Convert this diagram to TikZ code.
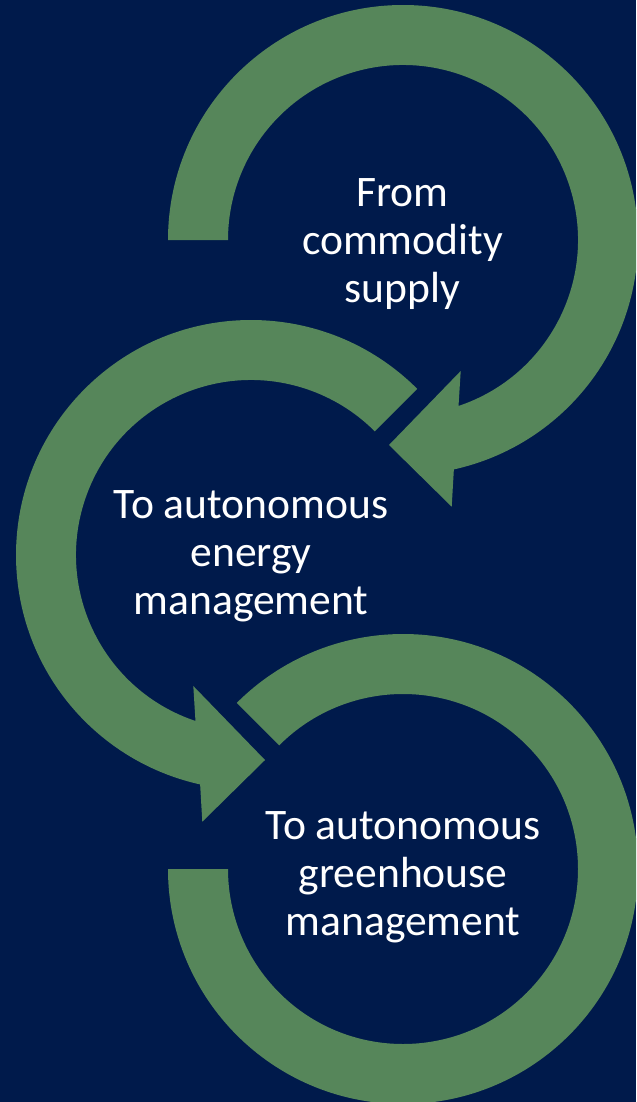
\documentclass[tikz,border=0pt]{standalone}
\usepackage{xcolor}
\usepackage{tikz}
\usepackage{fontspec}
\setmainfont{Carlito}
\definecolor{deepnavy}{HTML}{001A4B}
\definecolor{leafgreen}{HTML}{56865A}

\begin{document}
\begin{tikzpicture}[x=0.02cm,
				y=-0.02cm,
				ring/.style={fill=leafgreen},
				stage/.style={text=white, align=center, inner sep=0pt,
					font=\fontsize{24.8}{27.3}\selectfont}]
				\useasboundingbox (0,0) rectangle (636,1102);
				\fill[deepnavy] (0,0) rectangle (636,1102);
				\clip (0,0) rectangle (636,1102);
				\coordinate (c1) at (403,240);
				\coordinate (c2) at (251,555);
				\coordinate (c3) at (403,869);
				\fill[ring, shift={(c1)}] (180:235) arc[start angle=180, end angle=437.5, radius=235]
					-- (48.7,266.7) -- (-14,205) -- (57.7,131)
					-- (431.5:175) arc[start angle=431.5, end angle=180, radius=175] -- cycle;
				\fill[ring, shift={(c2)}] (-45:235) arc[start angle=-45, end angle=-257.5, radius=235]
					-- (-48.7,266.7) -- (14,205) -- (-57.7,131)
					-- (-251.5:175) arc[start angle=-251.5, end angle=-45, radius=175] -- cycle;
				\fill[ring, shift={(c3)}] (180:235) arc[start angle=180, end angle=-135, radius=235]
					-- (-135:175) arc[start angle=-135, end angle=180, radius=175] -- cycle;
				\node at (402.5,244) (supply) [stage] {From\\commodity\\supply};
				\node at (251,556.5) (energy) [stage] {To autonomous\\energy\\management};
				\node at (403,877.3) (greenhouse) [stage] {To autonomous\\greenhouse\\management};
\end{tikzpicture}
\end{document}
